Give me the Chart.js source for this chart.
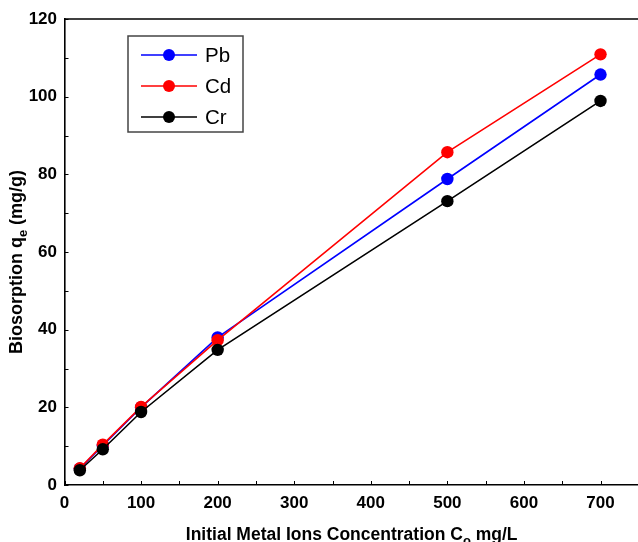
<!DOCTYPE html>
<html>
<head>
<meta charset="utf-8">
<script src="https://cdn.jsdelivr.net/npm/chart.js@4.4.1/dist/chart.umd.min.js"></script>
<style>
  html, body { margin: 0; padding: 0; background: #fff; overflow: hidden; }
  #wrap { width: 645px; height: 542px; }
</style>
</head>
<body>
<div id="wrap"><canvas id="c" width="645" height="542"></canvas></div>
<script>
// Initial metal ion concentration (mg/L)
const concentrations = [20, 50, 100, 200, 500, 700];
// Biosorption capacity q_e (mg/g) per metal
const pbValues = [4.2, 10.2, 20.0, 38.0, 78.8, 105.7];
const cdValues = [4.3, 10.4, 20.1, 37.3, 85.7, 110.9];
const crValues = [3.8, 9.2, 18.8, 34.8, 73.1, 98.9];
const seriesNames = ['Pb', 'Cd', 'Cr'];
const seriesColors = ['#0000ff', '#ff0000', '#000000'];
const xTickValues = [0, 100, 200, 300, 400, 500, 600, 700];
const yTickValues = [0, 20, 40, 60, 80, 100, 120];

const FONT = "'Liberation Sans', Arial, Helvetica, sans-serif";

function toPoints(ys) {
  return concentrations.map((x, i) => ({ x: x, y: ys[i] }));
}

// Inward minor/major ticks, frame line, in-plot legend and axis titles with subscripts
const decorations = {
  id: 'decorations',
  afterDraw(chart) {
    const ctx = chart.ctx;
    const area = chart.chartArea;
    const xs = chart.scales.x;
    const ys = chart.scales.y;
    ctx.save();

    // top frame line
    ctx.strokeStyle = '#000';
    ctx.lineWidth = 1.6;
    ctx.beginPath();
    ctx.moveTo(area.left, area.top);
    ctx.lineTo(chart.width, area.top);
    ctx.stroke();

    // tick marks pointing into the plot
    ctx.lineWidth = 1;
    ctx.beginPath();
    for (let v = 0; v <= 750; v += 50) {
      const px = Math.round(xs.getPixelForValue(v)) + 0.5;
      ctx.moveTo(px, area.bottom);
      ctx.lineTo(px, area.bottom - 4);
    }
    for (let v = 0; v <= 120; v += 10) {
      const py = Math.round(ys.getPixelForValue(v)) + 0.5;
      ctx.moveTo(area.left, py);
      ctx.lineTo(area.left + 4, py);
    }
    ctx.stroke();

    // legend box
    const bx = area.left + 63.5, by = area.top + 17, bw = 115, bh = 96;
    ctx.fillStyle = '#fff';
    ctx.fillRect(bx, by, bw, bh);
    ctx.strokeStyle = '#444';
    ctx.lineWidth = 1.5;
    ctx.strokeRect(bx, by, bw, bh);
    ctx.font = '20.5px ' + FONT;
    ctx.textBaseline = 'middle';
    ctx.textAlign = 'left';
    chart.data.datasets.forEach((ds, i) => {
      const ry = by + 19 + i * 31;
      ctx.strokeStyle = ds.borderColor;
      ctx.lineWidth = 1.6;
      ctx.beginPath();
      ctx.moveTo(bx + 13, ry);
      ctx.lineTo(bx + 69, ry);
      ctx.stroke();
      ctx.fillStyle = ds.backgroundColor;
      ctx.beginPath();
      ctx.arc(bx + 41, ry, 6, 0, Math.PI * 2);
      ctx.fill();
      ctx.fillStyle = '#000';
      ctx.fillText(ds.label, bx + 77, ry + 1);
    });

    // x axis title: Initial Metal Ions Concentration C_o mg/L
    const bigX = 'bold 17.5px ' + FONT;
    const smallX = 'bold 13px ' + FONT;
    const xParts = [['Initial Metal Ions Concentration C', bigX, 0], ['o', smallX, 5], [' mg/L', bigX, 0]];
    drawParts(ctx, xParts, (area.left + area.right) / 2, 539.5, 0);

    // y axis title: Biosorption q_e (mg/g)
    const bigY = 'bold 18px ' + FONT;
    const smallY = 'bold 13px ' + FONT;
    const yParts = [['Biosorption q', bigY, 0], ['e', smallY, 5], [' (mg/g)', bigY, 0]];
    drawParts(ctx, yParts, 22, (area.top + area.bottom) / 2 + 10, -Math.PI / 2);

    ctx.restore();
  }
};

function drawParts(ctx, parts, cx, cy, rot) {
  let total = 0;
  parts.forEach(p => { ctx.font = p[1]; total += ctx.measureText(p[0]).width; });
  ctx.save();
  ctx.translate(cx, cy);
  ctx.rotate(rot);
  ctx.textBaseline = 'alphabetic';
  ctx.textAlign = 'left';
  ctx.fillStyle = '#000';
  let x = -total / 2;
  parts.forEach(p => {
    ctx.font = p[1];
    ctx.fillText(p[0], x, p[2]);
    x += ctx.measureText(p[0]).width;
  });
  ctx.restore();
}

const datasets = [pbValues, cdValues, crValues].map((vals, i) => ({
  label: seriesNames[i],
  data: toPoints(vals),
  borderColor: seriesColors[i],
  backgroundColor: seriesColors[i],
  borderWidth: 1.6,
  pointRadius: 6.2,
  pointHoverRadius: 6.2,
  pointBorderWidth: 0,
  showLine: true,
  tension: 0,
  order: 2 - i
}));

new Chart(document.getElementById('c'), {
  type: 'scatter',
  data: { datasets: datasets },
  options: {
    responsive: false,
    animation: false,
    devicePixelRatio: 1,
    layout: { padding: { top: 19, right: 5, left: 0, bottom: 0 } },
    plugins: { legend: { display: false }, tooltip: { enabled: false } },
    scales: {
      x: {
        type: 'linear',
        min: 0,
        max: 750,
        afterBuildTicks: s => { s.ticks = xTickValues.map(v => ({ value: v })); },
        afterFit: s => { s.height = 57; },
        grid: { display: false, drawTicks: false },
        border: { display: true, color: '#000', width: 1.6 },
        ticks: { color: '#000', padding: 8, maxRotation: 0, font: { family: FONT, size: 17, weight: 'bold' } }
      },
      y: {
        type: 'linear',
        min: 0,
        max: 120,
        afterBuildTicks: s => { s.ticks = yTickValues.map(v => ({ value: v })); },
        afterFit: s => { s.width = 64.5; },
        grid: { display: false, drawTicks: false },
        border: { display: true, color: '#000', width: 1.6 },
        ticks: { color: '#000', padding: 7.5, font: { family: FONT, size: 17, weight: 'bold' } }
      }
    }
  },
  plugins: [decorations]
});
</script>
</body>
</html>
